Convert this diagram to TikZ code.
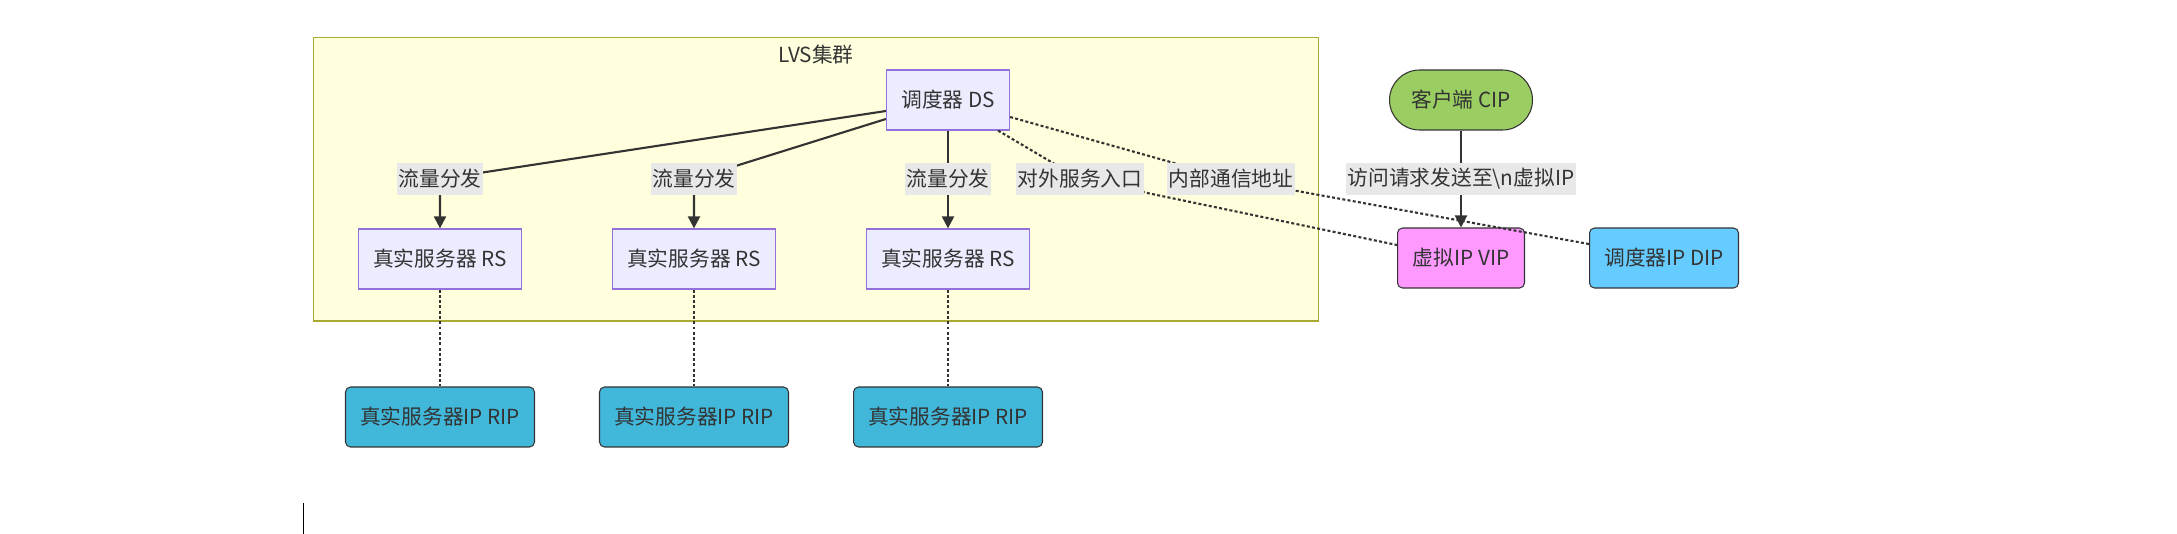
\documentclass[tikz,border=0pt]{standalone}
\usepackage{fontspec}
\setmainfont{Noto Sans CJK SC}
\usepackage{tikz}
\usetikzlibrary{arrows.meta}
\usepackage{xcolor}
\definecolor{txt}{HTML}{333333}
\definecolor{clfill}{HTML}{FFFFDE}
\definecolor{clline}{HTML}{AAAA33}
\definecolor{boxfill}{HTML}{ECECFF}
\definecolor{boxline}{HTML}{9370DB}
\definecolor{lblfill}{HTML}{E8E8E8}
\definecolor{cipfill}{HTML}{9ACD62}
\definecolor{vipfill}{HTML}{FF99FF}
\definecolor{dipfill}{HTML}{66CCFF}
\definecolor{ripfill}{HTML}{41B8DA}

\begin{document}
\begin{tikzpicture}[x=0.02cm, y=-0.02cm,
    every node/.style={text=txt, font=\fontsize{11.8}{13}\selectfont},
    cluster/.style={draw=clline, fill=clfill, line width=0.6pt, inner sep=0pt},
    server/.style={draw=boxline, fill=boxfill, line width=0.7pt, minimum height=1.2cm, inner sep=2pt},
    ipbox/.style={draw=txt, line width=0.6pt, rounded corners=0.1cm, minimum height=1.2cm, inner sep=2pt},
    lbl/.style={fill=lblfill, inner xsep=1pt, inner ysep=0pt, minimum height=0.66cm},
    flow/.style={draw=txt, line width=1.2pt, -{Triangle[length=0.24cm, width=0.24cm]}},
    dotline/.style={draw=txt, line width=1.2pt, dash pattern=on 1.7pt off 1.3pt}]
    \useasboundingbox[fill=white] (0,0) rectangle (2177,534);

    % LVS cluster
    \node[cluster, minimum width=20.12cm, minimum height=5.68cm] (lvs) at (816,179) {};
    \node (lvstitle) at (816,55) {LVS集群};

    % Scheduler and real servers
    \node[server, minimum width=2.46cm] (ds) at (948,100) {调度器 DS};
    \node[server, minimum width=3.26cm] (rs1) at (440,259) {真实服务器 RS};
    \node[server, minimum width=3.26cm] (rs2) at (694,259) {真实服务器 RS};
    \node[server, minimum width=3.26cm] (rs3) at (948,259) {真实服务器 RS};

    % IP addresses
    \node[ipbox, fill=ripfill, minimum width=3.78cm] (rip1) at (440,417) {真实服务器IP RIP};
    \node[ipbox, fill=ripfill, minimum width=3.78cm] (rip2) at (694,417) {真实服务器IP RIP};
    \node[ipbox, fill=ripfill, minimum width=3.78cm] (rip3) at (948,417) {真实服务器IP RIP};
    \node[ipbox, fill=cipfill, rounded corners=0.6cm, minimum width=2.86cm] (cip) at (1461,100) {客户端 CIP};
    \node[ipbox, fill=vipfill, minimum width=2.54cm] (vip) at (1461,258) {虚拟IP VIP};
    \node[ipbox, fill=dipfill, minimum width=2.98cm] (dip) at (1664,258) {调度器IP DIP};

    % Label positions
    \coordinate (c1) at (440,179);
    \coordinate (c2) at (694,179);
    \coordinate (c3) at (948,179);
    \coordinate (c4) at (1080,179);
    \coordinate (c5) at (1231,179);
    \coordinate (c6) at (1461,179);

    % Connectors
    \draw[flow] ([yshift=-0.22cm]ds.west) -- (c1) -- (rs1.north);
    \draw[flow] ([yshift=-0.38cm]ds.west) -- (c2) -- (rs2.north);
    \draw[flow] (ds.south) -- (c3) -- (rs3.north);
    \draw[dotline] ([xshift=-0.24cm]ds.south east) -- (c4) -- ([yshift=0.26cm]vip.west);
    \draw[dotline] ([yshift=-0.34cm]ds.east) -- (c5) -- ([yshift=0.28cm]dip.west);
    \draw[flow] (cip.south) -- (c6) -- (vip.north);
    \draw[dotline] (rs1.south) -- (rip1.north);
    \draw[dotline] (rs2.south) -- (rip2.north);
    \draw[dotline] (rs3.south) -- (rip3.north);

    % Edge labels
    \node[lbl] (l1) at (c1) {流量分发};
    \node[lbl] (l2) at (c2) {流量分发};
    \node[lbl] (l3) at (c3) {流量分发};
    \node[lbl] (l4) at (c4) {对外服务入口};
    \node[lbl] (l5) at (c5) {内部通信地址};
    \node[lbl] (l6) at (c6) {访问请求发送至\textbackslash n虚拟IP};

    % Cursor mark
    \draw[black, line width=0.5pt] (303,503) -- (303,534);
\end{tikzpicture}
\end{document}
